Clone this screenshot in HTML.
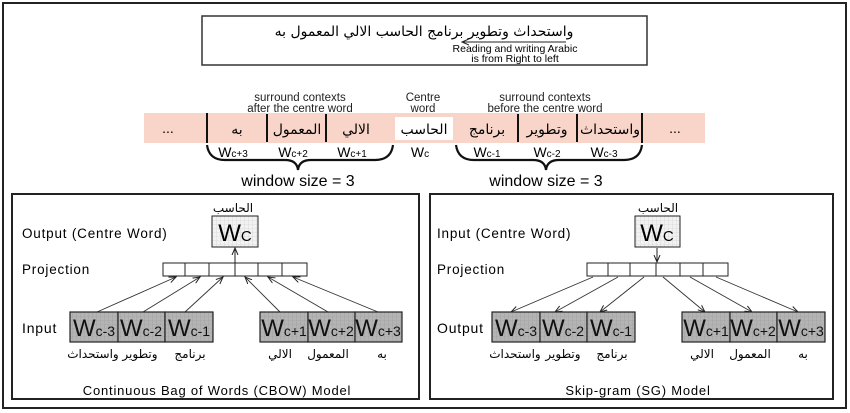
<!DOCTYPE html>
<html><head><meta charset="utf-8"><style>
html,body{margin:0;padding:0;background:#fff;}
svg{display:block;}
text{font-family:"Liberation Sans","Noto Sans CJK SC","DejaVu Sans",sans-serif;}
.ar{font-family:"DejaVu Sans","Noto Sans CJK SC",sans-serif;}
</style></head><body>
<svg width="850" height="413" viewBox="0 0 850 413" xmlns="http://www.w3.org/2000/svg">
<defs>
<pattern id="g" width="4" height="4" patternUnits="userSpaceOnUse"><rect width="4" height="4" fill="#f2f2f2"/><path d="M0 0H4M0 0V4" stroke="#ccc" stroke-width="0.6"/></pattern>
<pattern id="g2" width="4" height="4" patternUnits="userSpaceOnUse"><rect width="4" height="4" fill="#b4b4b4"/><path d="M0 0H4M0 0V4" stroke="#9a9a9a" stroke-width="0.6"/></pattern>
<marker id="ah" markerWidth="8" markerHeight="8" refX="7" refY="4" orient="auto" markerUnits="userSpaceOnUse"><path d="M0,1 L7,4 L0,7" fill="none" stroke="#222" stroke-width="1"/></marker>
</defs>
<rect x="3" y="3" width="843" height="405" fill="#fff" stroke="#222" stroke-width="2"/>
<rect x="202" y="16" width="445" height="49" fill="#fff" stroke="#333" stroke-width="1.5"/>
<text x="424" y="36" font-size="14" text-anchor="middle" class="ar">واستحداث وتطوير برنامج الحاسب الالي المعمول به</text>
<line x1="566" y1="42" x2="462" y2="42" stroke="#222" stroke-width="1" marker-end="url(#ah)"/>
<text x="515" y="52" font-size="10.5" text-anchor="middle">Reading and writing Arabic</text>
<text x="515" y="62" font-size="10.5" text-anchor="middle">is from Right to left</text>
<g font-size="11.5" text-anchor="middle" fill="#222">
<text x="300" y="101">surround contexts</text><text x="300" y="112">after the centre word</text>
<text x="423" y="101">Centre</text><text x="423" y="112">word</text>
<text x="545" y="101">surround contexts</text><text x="545" y="112">before the centre word</text>
</g>
<rect x="144" y="113" width="561" height="30" fill="#f8d5c8"/>
<rect x="395" y="117" width="58" height="23" fill="#fff"/>
<g stroke="#111" stroke-width="2">
<line x1="207" y1="113" x2="207" y2="143"/><line x1="267" y1="114" x2="267" y2="142"/><line x1="326" y1="114" x2="326" y2="142"/>
<line x1="518" y1="114" x2="518" y2="142"/><line x1="577" y1="114" x2="577" y2="142"/><line x1="642" y1="113" x2="642" y2="143"/>
</g>
<g font-size="14" text-anchor="middle" class="ar">
<text x="168" y="133" font-family="Liberation Sans">...</text>
<text x="237" y="134">به</text><text x="297" y="134">المعمول</text><text x="356" y="134">الالي</text>
<text x="424" y="134">الحاسب</text><text x="487" y="134">برنامج</text><text x="547" y="134">وتطوير</text><text x="610" y="134">واستحداث</text>
<text x="675" y="133" font-family="Liberation Sans">...</text>
</g>
<g font-size="14" text-anchor="middle">
<text x="233" y="157">W<tspan font-size="10">c+3</tspan></text><text x="293" y="157">W<tspan font-size="10">c+2</tspan></text><text x="352" y="157">W<tspan font-size="10">c+1</tspan></text>
<text x="420" y="157">W<tspan font-size="10">c</tspan></text>
<text x="487" y="157">W<tspan font-size="10">c-1</tspan></text><text x="547" y="157">W<tspan font-size="10">c-2</tspan></text><text x="604" y="157">W<tspan font-size="10">c-3</tspan></text>
</g>
<g fill="none" stroke="#111" stroke-width="2.2">
<path d="M207 145 Q209 160 225 160 L285 160 Q297 160 298 170 Q299 160 311 160 L375 160 Q391 160 393 145"/>
<path d="M456 145 Q458 160 474 160 L533 160 Q545 160 546 170 Q547 160 559 160 L624 160 Q640 160 642 145"/>
</g>
<g font-size="16" text-anchor="middle"><text x="298" y="186">window size = 3</text><text x="546" y="186">window size = 3</text></g>

<rect x="12" y="194" width="407" height="205" fill="#fff" stroke="#222" stroke-width="2"/>
<text x="233" y="212" font-size="12" text-anchor="middle" class="ar">الحاسب</text>
<rect x="212" y="216" width="46" height="31" fill="url(#g)" stroke="#222"/>
<text x="235" y="241" font-size="24" text-anchor="middle">W<tspan font-size="15">C</tspan></text>
<text x="22" y="238" font-size="13.5" letter-spacing="0.8">Output (Centre Word)</text>
<text x="22" y="274" font-size="13.5" letter-spacing="0.8">Projection</text>
<rect x="163" y="263" width="144" height="13" fill="#fff" stroke="#222"/>
<g stroke="#222"><line x1="185" y1="263" x2="185" y2="276"/><line x1="209" y1="263" x2="209" y2="276"/><line x1="235" y1="263" x2="235" y2="276"/><line x1="258" y1="263" x2="258" y2="276"/><line x1="282" y1="263" x2="282" y2="276"/></g>
<line x1="235" y1="263" x2="235" y2="248" stroke="#222" marker-end="url(#ah)"/>
<g stroke="#333" stroke-width="0.9" marker-end="url(#ah)">
<line x1="97" y1="312" x2="176" y2="277"/><line x1="143" y1="312" x2="200" y2="277"/><line x1="185" y1="312" x2="223" y2="277"/>
<line x1="280" y1="312" x2="245" y2="277"/><line x1="328" y1="312" x2="268" y2="277"/><line x1="378" y1="312" x2="293" y2="277"/>
</g>
<text x="22" y="333" font-size="14" letter-spacing="0.8">Input</text>
<g stroke="#222" stroke-width="1.2" fill="url(#g2)">
<rect x="70" y="312" width="48" height="30"/><rect x="118" y="312" width="47" height="30"/><rect x="165" y="312" width="48" height="30"/>
<rect x="260" y="312" width="48" height="30"/><rect x="308" y="312" width="47" height="30"/><rect x="355" y="312" width="47" height="30"/>
</g>
<g font-size="24" text-anchor="middle" fill="#111">
<text x="94" y="336">W<tspan font-size="14">c-3</tspan></text><text x="141" y="336">W<tspan font-size="14">c-2</tspan></text><text x="189" y="336">W<tspan font-size="14">c-1</tspan></text>
<text x="284" y="336">W<tspan font-size="14">c+1</tspan></text><text x="331" y="336">W<tspan font-size="14">c+2</tspan></text><text x="378" y="336">W<tspan font-size="14">c+3</tspan></text>
</g>
<g font-size="12" text-anchor="middle" class="ar">
<text x="93" y="358">واستحداث</text><text x="140" y="358">وتطوير</text><text x="190" y="358">برنامج</text>
<text x="280" y="358">الالي</text><text x="328" y="358">المعمول</text><text x="382" y="358">به</text>
</g>
<text x="217" y="395" font-size="13" text-anchor="middle" letter-spacing="0.8">Continuous Bag of Words (CBOW) Model</text>

<rect x="430" y="194" width="403" height="205" fill="#fff" stroke="#222" stroke-width="2"/>
<text x="658" y="212" font-size="12" text-anchor="middle" class="ar">الحاسب</text>
<rect x="635" y="216" width="45" height="31" fill="url(#g)" stroke="#222"/>
<text x="657" y="241" font-size="24" text-anchor="middle">W<tspan font-size="15">C</tspan></text>
<text x="437" y="238" font-size="13.5" letter-spacing="0.8">Input (Centre Word)</text>
<text x="437" y="274" font-size="13.5" letter-spacing="0.8">Projection</text>
<rect x="587" y="263" width="141" height="13" fill="#fff" stroke="#222"/>
<g stroke="#222"><line x1="608" y1="263" x2="608" y2="276"/><line x1="630" y1="263" x2="630" y2="276"/><line x1="656" y1="263" x2="656" y2="276"/><line x1="680" y1="263" x2="680" y2="276"/><line x1="703" y1="263" x2="703" y2="276"/></g>
<line x1="657" y1="248" x2="657" y2="262" stroke="#222" marker-end="url(#ah)"/>
<g stroke="#333" stroke-width="0.9" marker-end="url(#ah)">
<line x1="593" y1="277" x2="511" y2="312"/><line x1="618" y1="277" x2="555" y2="312"/><line x1="644" y1="277" x2="600" y2="312"/>
<line x1="663" y1="277" x2="705" y2="312"/><line x1="690" y1="277" x2="752" y2="312"/><line x1="716" y1="277" x2="798" y2="312"/>
</g>
<text x="437" y="333" font-size="14" letter-spacing="0.8">Output</text>
<g stroke="#222" stroke-width="1.2" fill="url(#g2)">
<rect x="492" y="312" width="48" height="30"/><rect x="540" y="312" width="47" height="30"/><rect x="587" y="312" width="48" height="30"/>
<rect x="682" y="312" width="48" height="30"/><rect x="730" y="312" width="47" height="30"/><rect x="777" y="312" width="48" height="30"/>
</g>
<g font-size="24" text-anchor="middle" fill="#111">
<text x="516" y="336">W<tspan font-size="14">c-3</tspan></text><text x="563" y="336">W<tspan font-size="14">c-2</tspan></text><text x="611" y="336">W<tspan font-size="14">c-1</tspan></text>
<text x="706" y="336">W<tspan font-size="14">c+1</tspan></text><text x="753" y="336">W<tspan font-size="14">c+2</tspan></text><text x="801" y="336">W<tspan font-size="14">c+3</tspan></text>
</g>
<g font-size="12" text-anchor="middle" class="ar">
<text x="515" y="358">واستحداث</text><text x="563" y="358">وتطوير</text><text x="612" y="358">برنامج</text>
<text x="702" y="358">الالي</text><text x="750" y="358">المعمول</text><text x="803" y="358">به</text>
</g>
<text x="638" y="395" font-size="13" text-anchor="middle" letter-spacing="0.8">Skip-gram (SG) Model</text>
</svg>
</body></html>
